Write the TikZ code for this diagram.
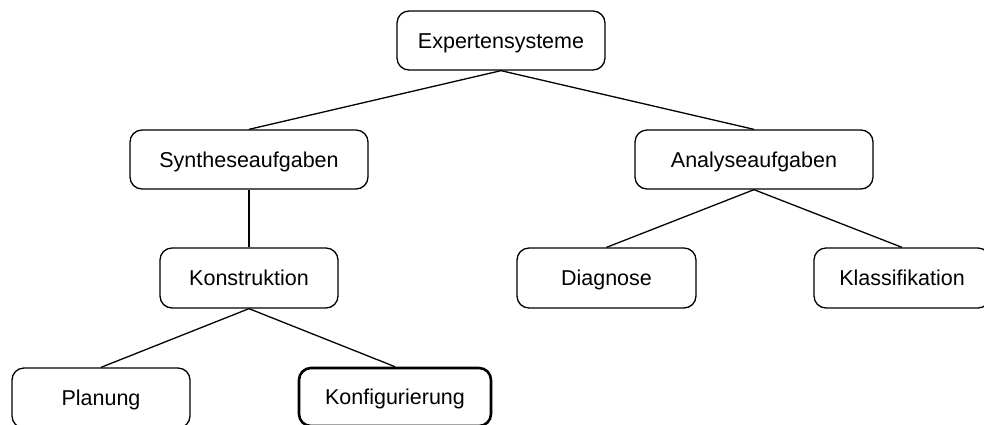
\documentclass[tikz,border=0pt]{standalone}
\usepackage{fontspec}
\setmainfont{Liberation Sans}
\begin{document}
\begin{tikzpicture}[x=1pt,y=-1pt,
  box/.style={draw, rounded corners=12pt, line width=1.3pt, inner sep=0pt,
    minimum height=59pt, text height=15.4pt, text depth=0pt,
    font=\fontsize{21.5}{26}\selectfont},
  focus/.style={box, line width=2.6pt},
  link/.style={line width=1.3pt}]
  \useasboundingbox (0,0) rectangle (984,424);
  % tree of expert system task types
  \node[box, minimum width=208pt] (ex)   at (501,40.5)  {Expertensysteme};
  \node[box, minimum width=238pt] (syn)  at (249,159.5) {Syntheseaufgaben};
  \node[box, minimum width=238pt] (ana)  at (754,159.5) {Analyseaufgaben};
  \node[box, minimum width=178pt, minimum height=60pt] (kon)  at (249,278) {Konstruktion};
  \node[box, minimum width=179pt, minimum height=60pt] (dia)  at (606.5,278) {Diagnose};
  \node[box, minimum width=176pt, minimum height=60pt] (kla)  at (902,278) {Klassifikation};
  \node[box, minimum width=178pt, minimum height=60pt] (pla)  at (101,398) {Planung};
  \node[focus, minimum width=192pt, minimum height=58pt] (konf) at (395,397) {Konfigurierung};
  % connectors
  \draw[link] (ex.south) -- (syn.north);
  \draw[link] (ex.south) -- (ana.north);
  \draw[link] (syn.south) -- (kon.north);
  \draw[link] (ana.south) -- (dia.north);
  \draw[link] (ana.south) -- (kla.north);
  \draw[link] (kon.south) -- (pla.north);
  \draw[link] (kon.south) -- (konf.north);
\end{tikzpicture}
\end{document}
